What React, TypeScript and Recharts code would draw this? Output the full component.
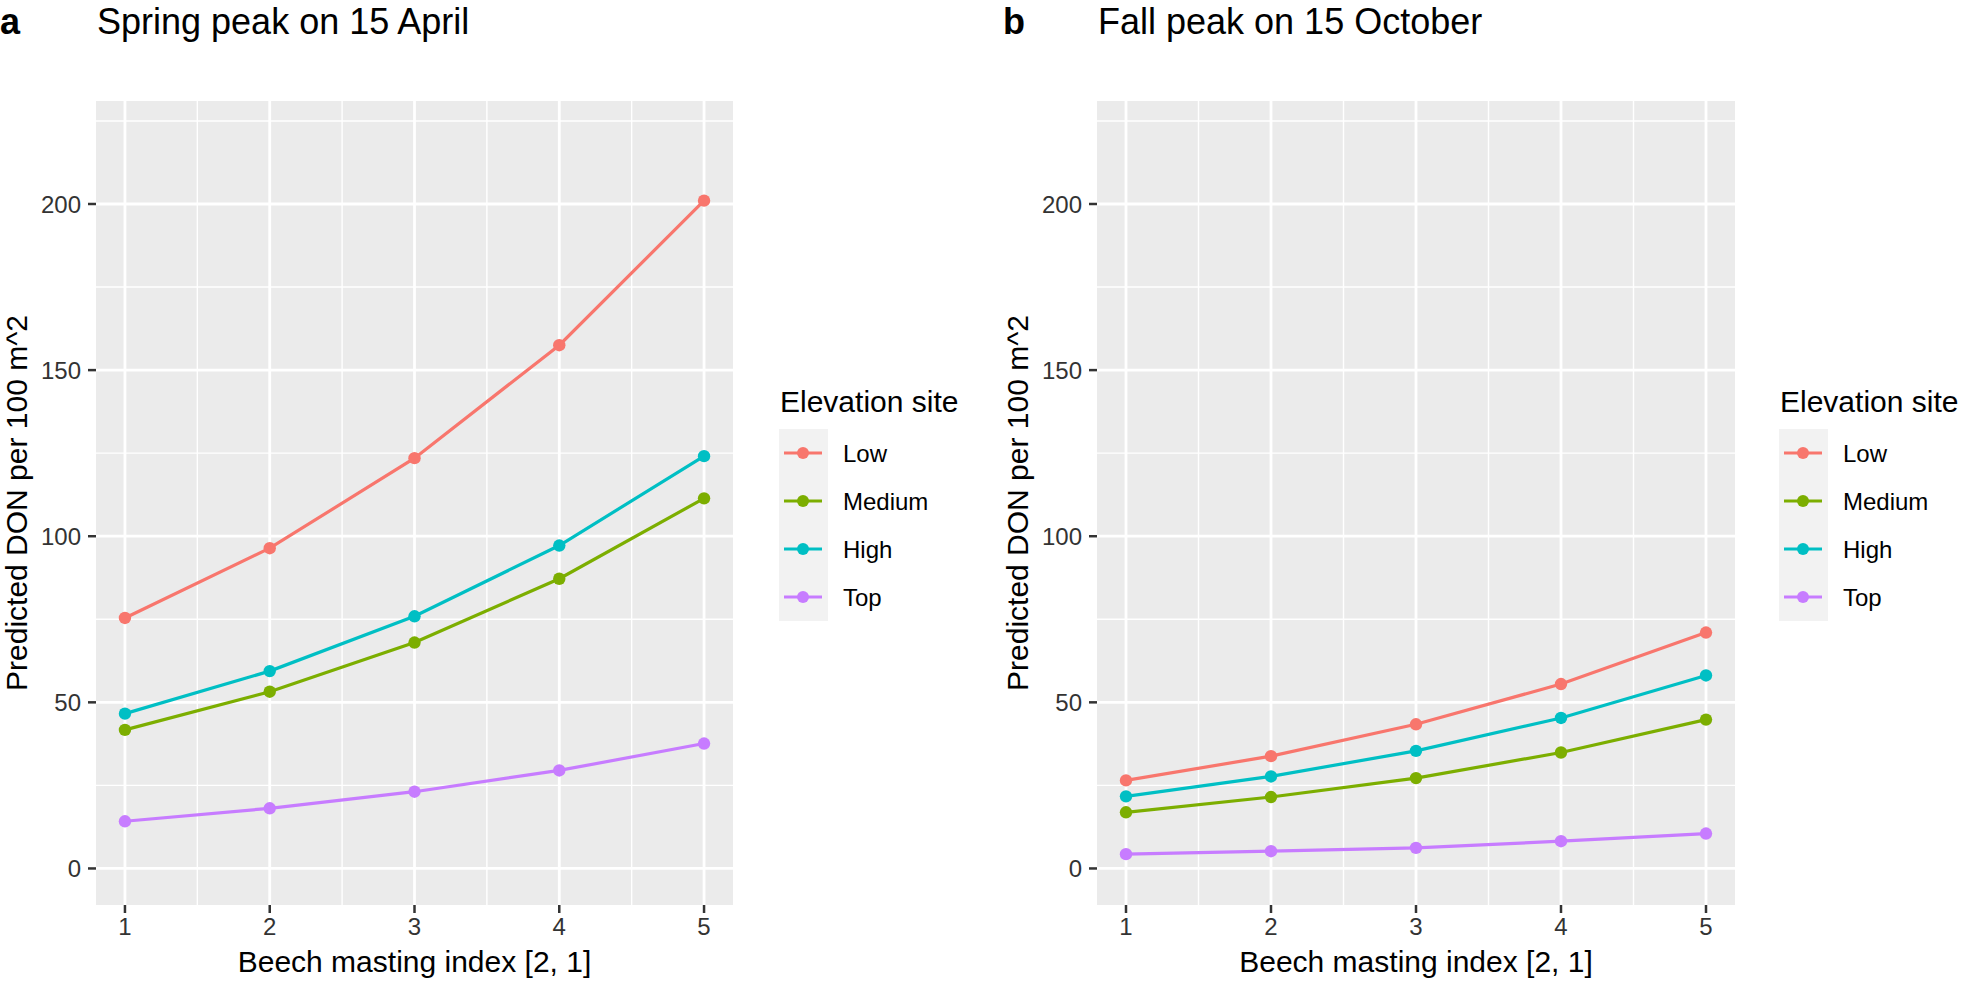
import type { ReactElement } from 'react';
import { CartesianGrid, Legend, Line, LineChart, XAxis, YAxis } from 'recharts';

// predicted DON per 100 m^2 against the beech masting index, two seasonal peaks
const mastingIndex = [1, 2, 3, 4, 5];
const sites = ['Low', 'Medium', 'High', 'Top'];
const siteColors = ['#F8766D', '#7CAE00', '#00BFC4', '#C77CFF'];

const springLow = [75.4, 96.4, 123.5, 157.5, 201.0];
const springMedium = [41.7, 53.2, 68.0, 87.2, 111.4];
const springHigh = [46.6, 59.4, 75.9, 97.2, 124.1];
const springTop = [14.2, 18.1, 23.1, 29.5, 37.6];

const fallLow = [26.5, 33.8, 43.4, 55.5, 71.0];
const fallMedium = [16.9, 21.5, 27.2, 34.9, 44.8];
const fallHigh = [21.7, 27.7, 35.4, 45.3, 58.1];
const fallTop = [4.3, 5.2, 6.2, 8.2, 10.5];

const xTicks = [1, 2, 3, 4, 5];
const xMinor = [1.5, 2.5, 3.5, 4.5];
const yTicks = [0, 50, 100, 150, 200];
const yMinor = [25, 75, 125, 175, 225];

const FONT = '"Liberation Sans", Arial, Helvetica, sans-serif';

function buildRows(low: number[], medium: number[], high: number[], top: number[]) {
  return mastingIndex.map((m, i) => ({
    masting: m,
    Low: low[i],
    Medium: medium[i],
    High: high[i],
    Top: top[i],
  }));
}

const springRows = buildRows(springLow, springMedium, springHigh, springTop);
const fallRows = buildRows(fallLow, fallMedium, fallHigh, fallTop);

type LegendItem = { value?: string; color?: string };

function SiteLegend({ payload }: { payload?: LegendItem[] }): ReactElement {
  const items = sites.map((name, i) => {
    const hit = (payload ?? []).find((p) => p.value === name);
    return { name, color: hit?.color ?? siteColors[i] };
  });
  return (
    <svg width={182} height={250} style={{ display: 'block', overflow: 'visible', fontFamily: FONT }}>
      <text x={1} y={32} fontSize={30} fill="#000">
        Elevation site
      </text>
      <rect x={0} y={49} width={49} height={items.length * 48} fill="#F2F2F2" />
      {items.map((item, i) => {
        const cy = 49 + 24 + 48 * i;
        return (
          <g key={item.name}>
            <line x1={5} x2={43} y1={cy} y2={cy} stroke={item.color} strokeWidth={3} />
            <circle cx={24} cy={cy} r={6} fill={item.color} />
            <text x={64} y={cy + 8.6} fontSize={24} fill="#000">
              {item.name}
            </text>
          </g>
        );
      })}
    </svg>
  );
}

type PanelProps = {
  rows: ReturnType<typeof buildRows>;
  left: number;
  width: number;
  yAxisWidth: number;
  marginRight: number;
  legendLeft: number;
};

function Panel({ rows, left, width, yAxisWidth, marginRight, legendLeft }: PanelProps): ReactElement {
  return (
    <div style={{ position: 'absolute', left, top: 0 }}>
      <LineChart
        width={width}
        height={982}
        data={rows}
        margin={{ top: 101, right: marginRight, bottom: 47, left: 0 }}
        style={{ fontFamily: FONT }}
      >
        <CartesianGrid
          fill="#EBEBEB"
          stroke="#FFFFFF"
          strokeWidth={1.4}
          horizontalValues={yMinor}
          verticalValues={xMinor}
        />
        <CartesianGrid
          stroke="#FFFFFF"
          strokeWidth={2.8}
          horizontalValues={yTicks}
          verticalValues={xTicks}
        />
        <XAxis
          type="number"
          dataKey="masting"
          domain={[0.8, 5.2]}
          ticks={xTicks}
          interval={0}
          height={30}
          axisLine={false}
          tickLine={{ stroke: '#333333', strokeWidth: 2.5 }}
          tickSize={8}
          tickMargin={5}
          tick={{ fill: '#333333', fontSize: 24 }}
        />
        <YAxis
          type="number"
          domain={[-11, 231]}
          ticks={yTicks}
          interval={0}
          width={yAxisWidth}
          axisLine={false}
          tickLine={{ stroke: '#333333', strokeWidth: 2.5 }}
          tickSize={8}
          tickMargin={7}
          tick={{ fill: '#333333', fontSize: 24 }}
        />
        <Legend
          layout="vertical"
          align="center"
          verticalAlign="middle"
          content={<SiteLegend />}
          wrapperStyle={{ left: legendLeft, top: 380, width: 182, height: 250 }}
        />
        {sites.map((site, i) => (
          <Line
            key={site}
            dataKey={site}
            name={site}
            type="linear"
            stroke={siteColors[i]}
            strokeWidth={3.2}
            dot={{ r: 6.2, fill: siteColors[i], stroke: siteColors[i], strokeWidth: 0 }}
            activeDot={false}
            isAnimationActive={false}
          />
        ))}
      </LineChart>
    </div>
  );
}

export default function App(): ReactElement {
  return (
    <div
      style={{
        position: 'absolute',
        left: 0,
        top: 0,
        width: 1961,
        height: 982,
        overflow: 'hidden',
        background: '#FFFFFF',
        fontFamily: FONT,
      }}
    >
      <Panel rows={springRows} left={0} width={980} yAxisWidth={96} marginRight={247} legendLeft={779} />
      <Panel rows={fallRows} left={980} width={981} yAxisWidth={117} marginRight={226} legendLeft={799} />
      <svg
        width={1961}
        height={982}
        style={{ position: 'absolute', left: 0, top: 0, pointerEvents: 'none', fontFamily: FONT }}
      >
        <text x={0} y={34} fontSize={36} fontWeight="bold" fill="#000">a</text>
        <text x={97} y={34} fontSize={36} fill="#000">Spring peak on 15 April</text>
        <text x={1003} y={34} fontSize={36} fontWeight="bold" fill="#000">b</text>
        <text x={1098} y={34} fontSize={36} fill="#000">Fall peak on 15 October</text>

        <text x={414.5} y={972} fontSize={30} textAnchor="middle" fill="#000">Beech masting index [2, 1]</text>
        <text x={1416} y={972} fontSize={30} textAnchor="middle" fill="#000">Beech masting index [2, 1]</text>

        <text x={27} y={503} fontSize={30} textAnchor="middle" fill="#000" transform="rotate(-90 27 503)">
          Predicted DON per 100 m^2
        </text>
        <text x={1028} y={503} fontSize={30} textAnchor="middle" fill="#000" transform="rotate(-90 1028 503)">
          Predicted DON per 100 m^2
        </text>
      </svg>
    </div>
  );
}
